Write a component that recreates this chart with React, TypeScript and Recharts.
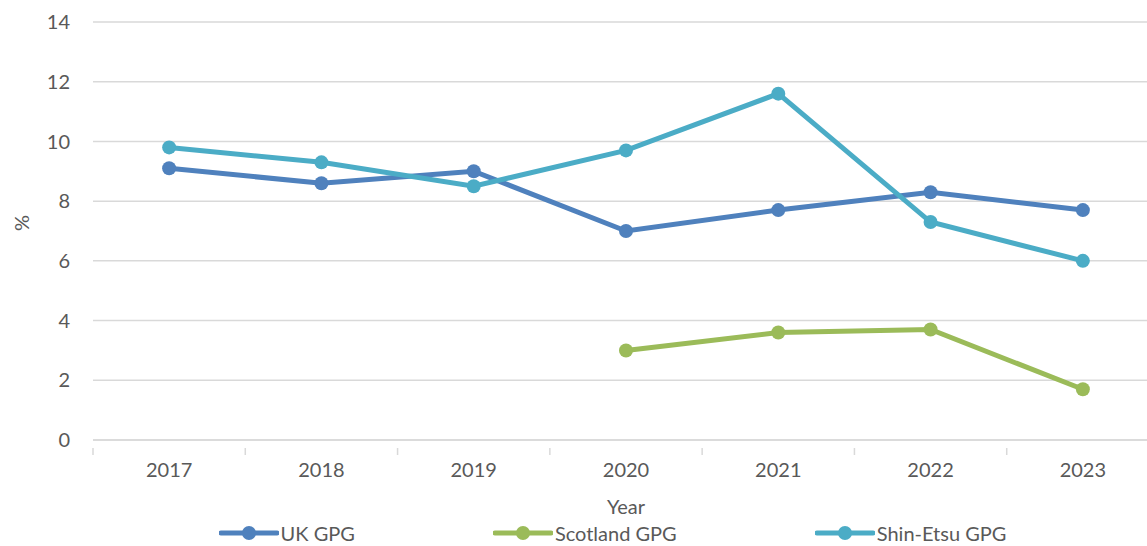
import React from 'react';
import { LineChart, Line, XAxis, YAxis, CartesianGrid, Legend } from 'recharts';

const years = ['2017', '2018', '2019', '2020', '2021', '2022', '2023'];
const ukGpg = [9.1, 8.6, 9.0, 7.0, 7.7, 8.3, 7.7];
const scotlandGpg = [null, null, null, 3.0, 3.6, 3.7, 1.7];
const shinEtsuGpg = [9.8, 9.3, 8.5, 9.7, 11.6, 7.3, 6.0];
const yTicks = [0, 2, 4, 6, 8, 10, 12, 14];

const seriesList = [
  { key: 'uk', name: 'UK GPG', color: '#4F81BD' },
  { key: 'scotland', name: 'Scotland GPG', color: '#9BBB59' },
  { key: 'shin', name: 'Shin-Etsu GPG', color: '#4BACC6' },
];

const data = years.map((year, i) => ({
  year,
  uk: ukGpg[i],
  scotland: scotlandGpg[i],
  shin: shinEtsuGpg[i],
}));

const FONT = 'Lato, "Open Sans", sans-serif';
const TEXT = '#595959';
const GRID = '#D9D9D9';

const CHART_W = 1165;
const CHART_H = 546;
const LEFT = 93;
const RIGHT = 6;
const BAND = (CHART_W - LEFT - RIGHT) / years.length;

function YearTick(props: any) {
  const { x, y, payload, index } = props;
  return (
    <g>
      <line x1={x - BAND / 2} y1={y} x2={x - BAND / 2} y2={y + 7} stroke={GRID} strokeWidth={1.5} />
      {index === years.length - 1 && (
        <line x1={x + BAND / 2} y1={y} x2={x + BAND / 2} y2={y + 7} stroke={GRID} strokeWidth={1.5} />
      )}
      <text x={x} y={y + 29} textAnchor="middle" fill={TEXT} fontSize={20} fontFamily={FONT}>
        {payload.value}
      </text>
    </g>
  );
}

function LegendContent() {
  return (
    <div style={{ display: 'flex', justifyContent: 'center', gap: 138, paddingLeft: 66, fontFamily: FONT, fontSize: 20, lineHeight: '20px', color: TEXT }}>
      {seriesList.map((s) => (
        <div key={s.key} style={{ display: 'flex', alignItems: 'center' }}>
          <svg width={60} height={16} style={{ marginRight: 2 }}>
            <line x1={2} y1={8} x2={58} y2={8} stroke={s.color} strokeWidth={5} strokeLinecap="round" />
            <circle cx={30} cy={8} r={7} fill={s.color} />
          </svg>
          <span>{s.name}</span>
        </div>
      ))}
    </div>
  );
}

export default function App() {
  return (
    <div style={{ position: 'absolute', left: 0, top: 0, width: 1147, height: 546, overflow: 'hidden', background: '#fff' }}>
      <LineChart width={CHART_W} height={CHART_H} data={data} margin={{ top: 22, right: RIGHT, left: 0, bottom: 0 }}>
        <CartesianGrid vertical={false} stroke={GRID} strokeWidth={1.5} />
        <XAxis
          dataKey="year"
          stroke={GRID}
          strokeWidth={1.5}
          tickLine={false}
          tick={<YearTick />}
          padding={{ left: BAND / 2, right: BAND / 2 }}
          height={82}
          label={{ value: 'Year', position: 'insideBottom', offset: 8, fill: TEXT, fontSize: 20, fontFamily: FONT }}
        />
        <YAxis
          width={LEFT}
          domain={[0, 14]}
          ticks={yTicks}
          axisLine={false}
          tickLine={false}
          tickSize={0}
          tickMargin={23}
          tick={{ fill: TEXT, fontSize: 20, fontFamily: FONT }}
          label={{ value: '%', angle: -90, position: 'insideLeft', offset: 22, fill: TEXT, fontSize: 20, fontFamily: FONT }}
        />
        <Legend verticalAlign="bottom" height={24} wrapperStyle={{ bottom: -1 }} content={<LegendContent />} />
        {seriesList.map((s) => (
          <Line
            key={s.key}
            dataKey={s.key}
            name={s.name}
            stroke={s.color}
            strokeWidth={5}
            dot={{ r: 7, fill: s.color, stroke: s.color, strokeWidth: 0 }}
            activeDot={false}
            isAnimationActive={false}
          />
        ))}
      </LineChart>
    </div>
  );
}
